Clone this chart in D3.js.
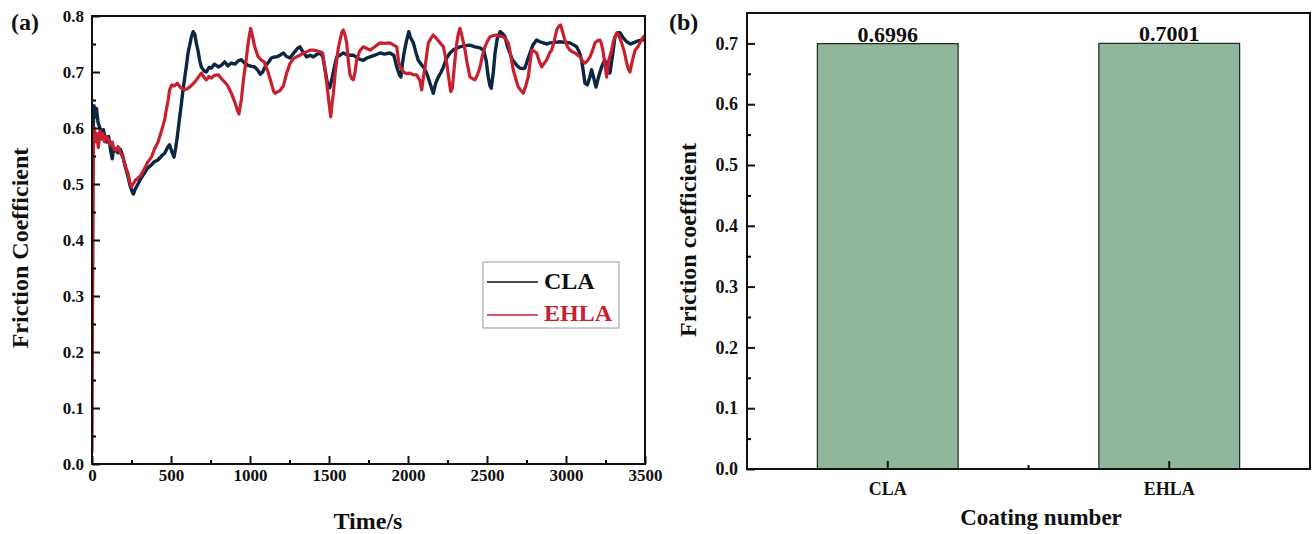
<!DOCTYPE html>
<html>
<head>
<meta charset="utf-8">
<script src="https://cdn.jsdelivr.net/npm/d3@7/dist/d3.min.js"></script>
<style>
 body { margin: 0; background: #fff; }
 svg text { font-family: "Liberation Serif", "Times New Roman", serif; font-weight: bold; fill: #111; }
</style>
</head>
<body>
<div id="chart"></div>
<script>
// panel (a): friction coefficient vs time
var claTime = [0,4,8,13,20,28,38,50,62,72,85,95,105,118,128,138,150,165,180,196,210,228,240,252,262,272,291,310,333,350,376,395,418,440,460,478,491,505,519,530,540,553,566,577,587,598,608,620,629,640,650,660,671,682,692,710,724,740,755,775,800,819,840,860,882,905,925,945,965,987,1010,1030,1050,1065,1080,1100,1114,1135,1156,1169,1190,1211,1230,1253,1280,1300,1316,1335,1358,1380,1401,1420,1443,1460,1475,1490,1505,1520,1535,1549,1570,1591,1612,1633,1654,1675,1700,1717,1740,1760,1790,1823,1850,1886,1910,1929,1945,1955,1965,1975,1990,2005,2015,2034,2050,2065,2080,2097,2115,2129,2145,2160,2175,2192,2210,2224,2245,2266,2290,2329,2360,2392,2424,2456,2480,2495,2508,2519,2527,2540,2551,2565,2583,2600,2614,2630,2645,2660,2677,2695,2709,2725,2740,2755,2772,2790,2814,2835,2856,2880,2898,2930,2962,2990,3025,3050,3067,3085,3099,3110,3120,3135,3150,3162,3175,3190,3205,3225,3245,3260,3278,3295,3310,3330,3342,3360,3384,3410,3426,3450,3479,3500];
var claCoef = [0.18,0.42,0.60,0.64,0.62,0.635,0.61,0.60,0.59,0.597,0.58,0.575,0.585,0.56,0.545,0.565,0.56,0.556,0.562,0.548,0.532,0.513,0.498,0.488,0.482,0.49,0.50,0.51,0.52,0.528,0.534,0.54,0.543,0.55,0.555,0.565,0.57,0.558,0.548,0.565,0.585,0.615,0.644,0.67,0.69,0.712,0.734,0.75,0.763,0.772,0.768,0.752,0.738,0.72,0.709,0.702,0.70,0.708,0.707,0.714,0.709,0.712,0.718,0.711,0.716,0.714,0.72,0.722,0.716,0.712,0.71,0.709,0.703,0.696,0.70,0.712,0.716,0.725,0.727,0.727,0.73,0.734,0.728,0.725,0.735,0.742,0.745,0.736,0.727,0.73,0.727,0.731,0.734,0.728,0.704,0.68,0.672,0.69,0.71,0.727,0.73,0.734,0.731,0.73,0.73,0.726,0.722,0.721,0.725,0.727,0.73,0.734,0.732,0.734,0.73,0.709,0.695,0.691,0.715,0.734,0.755,0.772,0.762,0.752,0.735,0.721,0.715,0.709,0.70,0.689,0.675,0.662,0.68,0.691,0.70,0.709,0.725,0.734,0.74,0.745,0.747,0.748,0.745,0.743,0.738,0.72,0.691,0.675,0.671,0.70,0.734,0.76,0.772,0.768,0.763,0.745,0.734,0.722,0.716,0.71,0.707,0.706,0.707,0.72,0.734,0.748,0.757,0.754,0.752,0.75,0.752,0.753,0.754,0.753,0.752,0.748,0.745,0.735,0.721,0.70,0.68,0.677,0.69,0.704,0.69,0.673,0.69,0.709,0.721,0.712,0.698,0.73,0.763,0.77,0.77,0.762,0.754,0.75,0.752,0.755,0.757,0.758];

var ehlaTime = [0,3,6,10,15,22,30,40,50,60,70,80,90,101,115,128,140,155,165,180,196,212,228,240,250,260,275,291,310,333,355,376,395,418,440,460,470,482,491,505,519,540,560,587,608,629,650,671,692,710,724,740,755,775,800,819,840,860,882,905,920,930,945,960,975,990,1004,1015,1030,1050,1072,1090,1114,1135,1150,1160,1170,1190,1211,1232,1253,1275,1295,1316,1340,1358,1380,1401,1420,1443,1460,1475,1490,1500,1511,1520,1527,1540,1549,1560,1570,1580,1591,1602,1612,1622,1633,1645,1654,1665,1675,1695,1717,1740,1760,1790,1823,1850,1886,1910,1929,1940,1950,1971,1990,2013,2034,2055,2075,2087,2097,2108,2118,2129,2145,2160,2180,2203,2224,2235,2245,2260,2270,2280,2297,2310,2320,2329,2345,2361,2375,2392,2410,2424,2440,2456,2470,2487,2503,2519,2540,2561,2583,2603,2620,2635,2650,2666,2682,2698,2715,2730,2745,2761,2772,2783,2800,2814,2830,2846,2860,2877,2898,2909,2925,2941,2955,2966,2980,2993,3010,3025,3040,3057,3075,3088,3105,3120,3135,3152,3170,3183,3200,3215,3225,3236,3248,3257,3270,3289,3300,3321,3335,3352,3370,3384,3395,3405,3420,3437,3455,3468,3479,3490,3500];
var ehlaCoef = [0.02,0.25,0.5,0.59,0.60,0.575,0.59,0.565,0.595,0.58,0.59,0.575,0.585,0.58,0.57,0.575,0.562,0.56,0.567,0.555,0.548,0.53,0.519,0.502,0.495,0.50,0.507,0.51,0.516,0.528,0.54,0.548,0.562,0.575,0.595,0.615,0.632,0.65,0.668,0.677,0.675,0.68,0.672,0.668,0.671,0.676,0.682,0.69,0.698,0.69,0.686,0.692,0.689,0.694,0.695,0.688,0.682,0.675,0.662,0.645,0.632,0.625,0.65,0.69,0.72,0.755,0.778,0.765,0.745,0.728,0.721,0.718,0.70,0.68,0.665,0.662,0.664,0.667,0.675,0.698,0.715,0.724,0.727,0.73,0.734,0.736,0.739,0.739,0.738,0.736,0.734,0.704,0.67,0.645,0.62,0.645,0.66,0.70,0.721,0.745,0.757,0.77,0.775,0.765,0.752,0.72,0.695,0.688,0.686,0.70,0.721,0.738,0.745,0.742,0.739,0.745,0.752,0.751,0.752,0.748,0.745,0.72,0.709,0.70,0.697,0.698,0.695,0.695,0.685,0.668,0.69,0.709,0.73,0.752,0.76,0.766,0.76,0.752,0.745,0.73,0.716,0.685,0.665,0.67,0.721,0.755,0.77,0.778,0.76,0.739,0.715,0.691,0.688,0.686,0.695,0.709,0.728,0.745,0.755,0.763,0.765,0.766,0.764,0.763,0.758,0.752,0.73,0.704,0.688,0.673,0.667,0.662,0.675,0.691,0.715,0.739,0.737,0.734,0.72,0.709,0.715,0.721,0.735,0.739,0.755,0.775,0.782,0.784,0.77,0.757,0.745,0.739,0.736,0.734,0.73,0.727,0.72,0.716,0.72,0.727,0.74,0.752,0.756,0.757,0.75,0.734,0.71,0.691,0.72,0.739,0.755,0.77,0.765,0.752,0.735,0.716,0.705,0.70,0.72,0.739,0.745,0.752,0.758,0.763,0.765];

var timeTicks = [0,500,1000,1500,2000,2500,3000,3500];
var coefTicksA = [0,0.1,0.2,0.3,0.4,0.5,0.6,0.7,0.8];

// panel (b): average friction coefficient per coating
var coatings = ["CLA","EHLA"];
var avgCoef = [0.6996,0.7001];
var coefTicksB = [0,0.1,0.2,0.3,0.4,0.5,0.6,0.7];

var width = 1313, height = 534;
var navy = "#0c2744", red = "#c8202e", green = "#8fb79b";

var svg = d3.select("#chart").append("svg")
 .attr("width", width)
 .attr("height", height);

// ---------- panel (a) ----------
var ax = d3.scaleLinear().domain([0,3500]).range([92,645]);
var ay = d3.scaleLinear().domain([0,0.8]).range([464,16]);

svg.append("defs").append("clipPath").attr("id","clipA")
 .append("rect").attr("x",92).attr("y",16).attr("width",553).attr("height",448);

var line = d3.line()
 .x(function(d) { return ax(d[0]); })
 .y(function(d) { return ay(d[1]); });

var gLines = svg.append("g").attr("clip-path","url(#clipA)");
gLines.append("path")
 .datum(d3.zip(claTime, claCoef))
 .attr("d", line)
 .attr("fill","none").attr("stroke",navy).attr("stroke-width",3.4).attr("stroke-linejoin","round");
gLines.append("path")
 .datum(d3.zip(ehlaTime, ehlaCoef))
 .attr("d", line)
 .attr("fill","none").attr("stroke",red).attr("stroke-width",3.2).attr("stroke-linejoin","round");

// minor ticks
svg.append("g").attr("transform","translate(0,464)")
 .call(d3.axisBottom(ax).tickValues(d3.range(250,3500,500)).tickSize(-4).tickFormat(""))
 .call(function(g) { g.select(".domain").remove(); g.selectAll("line").attr("stroke-width",2); });
svg.append("g").attr("transform","translate(92,0)")
 .call(d3.axisLeft(ay).tickValues(d3.range(0.05,0.8,0.1)).tickSize(-4).tickFormat(""))
 .call(function(g) { g.select(".domain").remove(); g.selectAll("line").attr("stroke-width",2); });

var xAxisA = svg.append("g").attr("transform","translate(0,464)")
 .call(d3.axisBottom(ax).tickValues(timeTicks).tickSizeInner(-8).tickSizeOuter(0).tickPadding(5).tickFormat(d3.format("d")));
var yAxisA = svg.append("g").attr("transform","translate(92,0)")
 .call(d3.axisLeft(ay).tickValues(coefTicksA).tickSizeInner(-8).tickSizeOuter(0).tickPadding(8).tickFormat(d3.format(".1f")));
[xAxisA, yAxisA].forEach(function(g) {
 g.select(".domain").remove();
 g.selectAll("line").attr("stroke","#111").attr("stroke-width",2);
 g.selectAll("text").style("font-size","17px").attr("fill","#111");
});

svg.append("rect").attr("x",92).attr("y",16).attr("width",553).attr("height",448)
 .attr("fill","none").attr("stroke","#111").attr("stroke-width",2);

// legend
var leg = svg.append("g").attr("transform","translate(483,262)");
leg.append("rect").attr("width",136).attr("height",66).attr("fill","#fff").attr("stroke","#9a9a9a").attr("stroke-width",1);
leg.append("line").attr("x1",4).attr("x2",55).attr("y1",20).attr("y2",20).attr("stroke","#111").attr("stroke-width",1.5);
leg.append("text").attr("x",61).attr("y",27).style("font-size","24px").text("CLA");
leg.append("line").attr("x1",4).attr("x2",55).attr("y1",53).attr("y2",53).attr("stroke",red).attr("stroke-width",1.5);
leg.append("text").attr("x",61).attr("y",59).style("font-size","24px").style("fill",red).text("EHLA");

svg.append("text").attr("x",11).attr("y",30).style("font-size","24px").text("(a)");
svg.append("text").attr("x",368).attr("y",529).attr("text-anchor","middle").style("font-size","24px").text("Time/s");
svg.append("text").attr("transform","translate(28,248) rotate(-90)").attr("text-anchor","middle").style("font-size","24px").text("Friction Coefficient");

// ---------- panel (b) ----------
var bx = d3.scaleBand().domain(coatings).range([747,1310]).padding(0);
var by = d3.scaleLinear().domain([0,0.75]).range([469,13]);
var barW = bx.bandwidth() * 0.5;

svg.selectAll(".bar")
 .data(d3.zip(coatings, avgCoef))
 .enter().append("rect")
 .attr("class","bar")
 .attr("x", function(d) { return bx(d[0]) + (bx.bandwidth() - barW) / 2; })
 .attr("y", function(d) { return by(d[1]); })
 .attr("width", barW)
 .attr("height", function(d) { return by(0) - by(d[1]); })
 .attr("fill", green).attr("stroke","#222").attr("stroke-width",1.2);

svg.selectAll(".barlabel")
 .data(d3.zip(coatings, avgCoef))
 .enter().append("text")
 .attr("class","barlabel")
 .attr("x", function(d) { return bx(d[0]) + bx.bandwidth() / 2; })
 .attr("y", function(d) { return by(d[1]) - 2; })
 .attr("text-anchor","middle")
 .style("font-size","22px")
 .text(function(d) { return d3.format(".4f")(d[1]); });

svg.append("g").attr("transform","translate(747,0)")
 .call(d3.axisLeft(by).tickValues(d3.range(0.05,0.75,0.1)).tickSize(-4).tickFormat(""))
 .call(function(g) { g.select(".domain").remove(); g.selectAll("line").attr("stroke-width",2); });
svg.append("line").attr("x1",(747+1310)/2).attr("x2",(747+1310)/2).attr("y1",469).attr("y2",465)
 .attr("stroke","#111").attr("stroke-width",2);

var xAxisB = svg.append("g").attr("transform","translate(0,469)")
 .call(d3.axisBottom(bx).tickSizeInner(-8).tickSizeOuter(0).tickPadding(13));
var yAxisB = svg.append("g").attr("transform","translate(747,0)")
 .call(d3.axisLeft(by).tickValues(coefTicksB).tickSizeInner(-8).tickSizeOuter(0).tickPadding(9).tickFormat(d3.format(".1f")));
[xAxisB, yAxisB].forEach(function(g) {
 g.select(".domain").remove();
 g.selectAll("line").attr("stroke","#111").attr("stroke-width",2);
 g.selectAll("text").style("font-size","18px").attr("fill","#111");
});

svg.append("rect").attr("x",747).attr("y",13).attr("width",563).attr("height",456)
 .attr("fill","none").attr("stroke","#111").attr("stroke-width",2);

svg.append("text").attr("x",669).attr("y",30).style("font-size","24px").text("(b)");
svg.append("text").attr("x",1041).attr("y",525).attr("text-anchor","middle").style("font-size","23px").text("Coating number");
svg.append("text").attr("transform","translate(696,240) rotate(-90)").attr("text-anchor","middle").style("font-size","24px").text("Friction coefficient");
</script>
</body>
</html>
